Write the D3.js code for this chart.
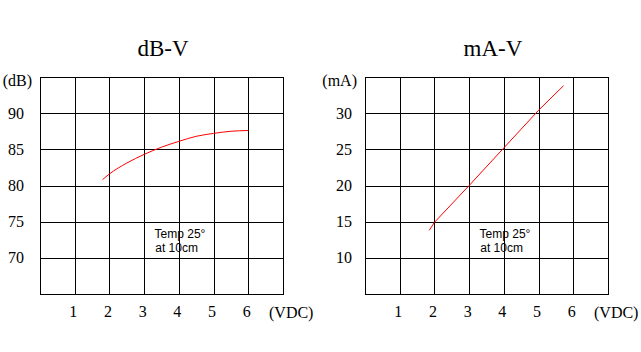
<!DOCTYPE html>
<meta charset="utf-8">
<title>dB-V / mA-V</title>
<style>
  body { margin: 0; background: #fff; }
  .grid line { stroke: #000; stroke-width: 1px; shape-rendering: crispEdges; }
  .frame { fill: none; stroke: #000; stroke-width: 1px; shape-rendering: crispEdges; }
  .curve { fill: none; stroke: red; stroke-width: 1px; }
  .title { font-family: "Liberation Serif", serif; font-size: 23px; text-anchor: middle; }
  .tick text { font-family: "Liberation Serif", serif; font-size: 16px; fill: #000; }
  .unit { font-family: "Liberation Serif", serif; font-size: 16px; }
  .note { font-family: "Liberation Sans", Arial, sans-serif; font-size: 12px; }
</style>
<svg width="641" height="352"></svg>
<script src="https://d3js.org/d3.v7.min.js"></script>
<script>
  // values
  var xTicks = [1, 2, 3, 4, 5, 6];
  var dbTicks = [70, 75, 80, 85, 90];
  var maTicks = [10, 15, 20, 25, 30];

  var dbVolts = [1.8, 2, 2.5, 3, 3.5, 4, 4.5, 5, 5.5, 6];
  var dbValues = [80.8, 81.6, 83.1, 84.3, 85.3, 86.1, 86.8, 87.2, 87.5, 87.6];

  var maVolts = [1.85, 2, 3, 4, 5, 5.72];
  var maValues = [13.8, 14.9, 20, 25.2, 30.4, 33.8];

  var svg = d3.select("svg");

  function drawChart(o) {
    var x = d3.scaleLinear().domain([0, 7]).range([o.left, o.left + 243]);
    var y = d3.scaleLinear().domain(o.yDomain).range([294, 77]);
    var g = svg.append("g");

    // grid
    var grid = g.append("g").attr("class", "grid");
    grid.selectAll(".v").data(d3.range(1, 7)).enter().append("line")
      .attr("x1", d => Math.round(x(d)) + 0.5).attr("x2", d => Math.round(x(d)) + 0.5)
      .attr("y1", y.range()[1]).attr("y2", y.range()[0]);
    grid.selectAll(".h").data(o.yTicks).enter().append("line")
      .attr("y1", d => Math.round(y(d)) + 0.5).attr("y2", d => Math.round(y(d)) + 0.5)
      .attr("x1", x.range()[0]).attr("x2", x.range()[1]);
    g.append("rect").attr("class", "frame")
      .attr("x", x.range()[0] + 0.5).attr("y", y.range()[1] + 0.5)
      .attr("width", x.range()[1] - x.range()[0]).attr("height", y.range()[0] - y.range()[1]);

    // axes (labels only)
    var xa = g.append("g").attr("transform", "translate(0,306)")
      .call(d3.axisBottom(x).tickValues(xTicks).tickFormat(d3.format("d")).tickSize(0).tickPadding(0));
    xa.select(".domain").remove();
    xa.selectAll("text").attr("dy", "0.71em").attr("dx", -2);

    var ya = g.append("g").attr("transform", "translate(" + (x.range()[0] - o.yGap) + ",0)")
      .call(d3.axisLeft(y).tickValues(o.yTicks).tickFormat(d3.format("d")).tickSize(0).tickPadding(0));
    ya.select(".domain").remove();

    g.append("text").attr("class", "title")
      .attr("x", o.titleX).attr("y", 56).text(o.title);
    g.append("text").attr("class", "unit").attr("text-anchor", "end")
      .attr("x", x.range()[0] - 8).attr("y", 86).text(o.unit);
    g.append("text").attr("class", "unit")
      .attr("x", x.range()[1] - 14).attr("y", 318).text("(VDC)");

    g.append("text").attr("class", "note").attr("x", x(3.3)).attr("y", 238).text("Temp 25°");
    g.append("text").attr("class", "note").attr("x", x(3.32)).attr("y", 252).text("at 10cm");

    var line = d3.line().x(d => x(d[0])).y(d => y(d[1])).curve(o.curve);
    g.append("path").attr("class", "curve")
      .datum(d3.zip(o.xs, o.ys))
      .attr("d", line);
  }

  drawChart({ left: 40, yDomain: [65, 95], yTicks: dbTicks, yGap: 16, title: "dB-V", titleX: 163,
    unit: "(dB)", xs: dbVolts, ys: dbValues, curve: d3.curveMonotoneX });
  drawChart({ left: 365, yDomain: [5, 35], yTicks: maTicks, yGap: 13, title: "mA-V", titleX: 493,
    unit: "(mA)", xs: maVolts, ys: maValues, curve: d3.curveLinear });
</script>
